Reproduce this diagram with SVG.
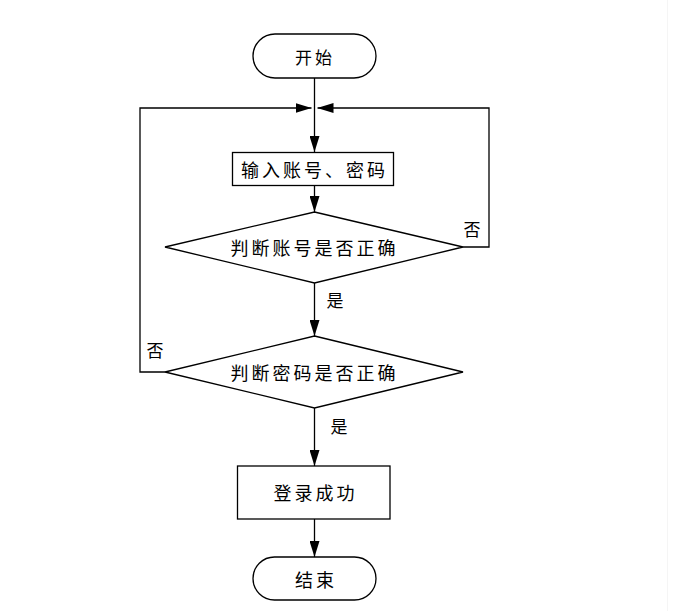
<svg xmlns="http://www.w3.org/2000/svg" width="683" height="611" viewBox="0 0 683 611">
<defs>
<marker id="arr" viewBox="0 0 16 10" refX="16" refY="5" markerWidth="16" markerHeight="10" markerUnits="userSpaceOnUse" orient="auto">
<path d="M0,0 L16,5 L0,10 Z" fill="#000"/>
</marker>
<style>
.shape{fill:#fff;stroke:#000;stroke-width:1.3}
.line{fill:none;stroke:#000;stroke-width:1.3}
.t{font-family:"Noto Sans CJK SC","Noto Sans",sans-serif;font-size:18px;fill:#000;text-anchor:middle;dominant-baseline:central;letter-spacing:3px}
.lbl{font-family:"Noto Sans CJK SC","Noto Sans",sans-serif;font-size:17px;fill:#000;text-anchor:middle;dominant-baseline:central}
</style>
</defs>
<rect width="683" height="611" fill="#fff"/>
<line x1="667.5" y1="0" x2="667.5" y2="611" stroke="#f5f5f5" stroke-width="1"/>
<g id="connectors">
<path class="line" d="M314.5,78 V152" marker-end="url(#arr)"/>
<path class="line" d="M314.5,186 V212" marker-end="url(#arr)"/>
<path class="line" d="M314.5,283 V336" marker-end="url(#arr)"/>
<path class="line" d="M314.5,408 V466" marker-end="url(#arr)"/>
<path class="line" d="M314.5,519 V557" marker-end="url(#arr)"/>
<path class="line" d="M463,247 H489 V108 H317.5" marker-end="url(#arr)"/>
<path class="line" d="M165,372 H140 V108 H311.5" marker-end="url(#arr)"/>
<text class="lbl" x="472" y="228">否</text>
<text class="lbl" x="155" y="349">否</text>
<text class="lbl" x="335" y="299">是</text>
<text class="lbl" x="339" y="425">是</text>
</g>
<g id="start">
<rect class="shape" x="253" y="34" width="123" height="44" rx="22" ry="22"/>
<text class="t" x="315" y="56" style="font-size:17px">开始</text>
</g>
<g id="input">
<rect class="shape" x="232.5" y="152.5" width="161" height="33"/>
<text class="t" x="314.5" y="169">输入账号、密码</text>
</g>
<g id="check-account">
<polygon class="shape" points="314.5,212 463,247 314.5,283 165,247"/>
<text class="t" x="314.5" y="247">判断账号是否正确</text>
</g>
<g id="check-password">
<polygon class="shape" points="314.5,336 463,372 314.5,408 165,372"/>
<text class="t" x="314.5" y="372">判断密码是否正确</text>
</g>
<g id="success">
<rect class="shape" x="237.5" y="466" width="152.5" height="53"/>
<text class="t" x="315.5" y="492">登录成功</text>
</g>
<g id="end">
<rect class="shape" x="253" y="557" width="123" height="43" rx="21.5" ry="21.5"/>
<text class="t" x="316" y="578.5">结束</text>
</g>
</svg>
